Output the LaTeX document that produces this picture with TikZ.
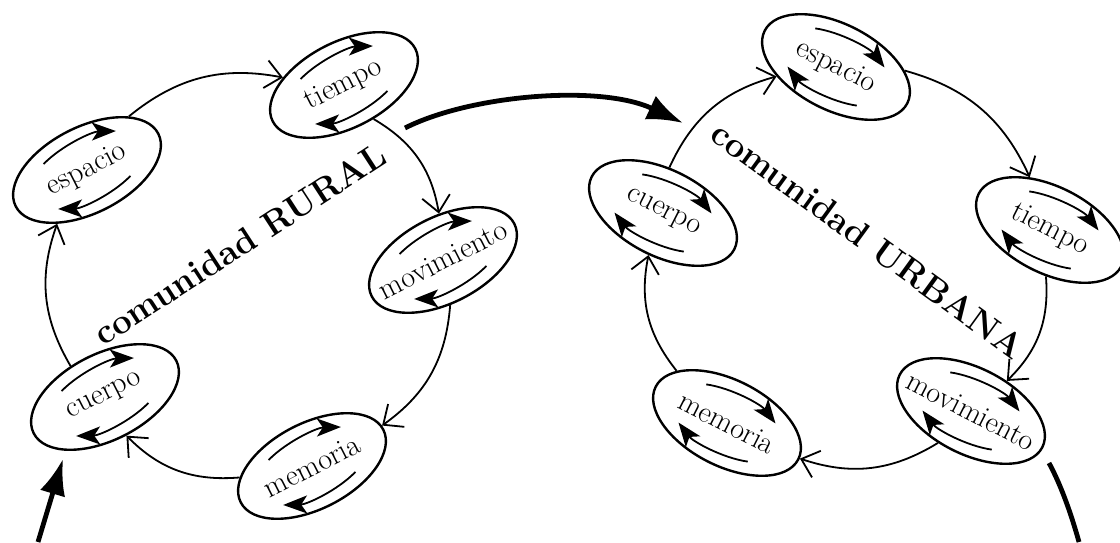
\documentclass[tikz,border=0pt]{standalone}
\usepackage{tikz}
\usetikzlibrary{arrows.meta}
\usetikzlibrary{shapes.geometric}
\tikzset{elip/.style = {draw, ellipse, line width=1.2pt, minimum width=80pt,
                        minimum height=43pt, inner sep=0, font=\fontsize{15}{17}\selectfont}}
\tikzset{link/.style = {line width=0.9pt, -{Straight Barb[length=8pt,width=14pt]}, bend left=25}}
\tikzset{turn/.style = {line width=0.9pt, -{Stealth[length=12pt,width=9pt,inset=3pt]}}}
\tikzset{flow/.style = {line width=2.4pt, -{Latex[length=18pt,width=13pt]}}}
\tikzset{title/.style = {font=\fontsize{17.5}{20}\selectfont\bfseries, inner sep=0}}

\begin{document}
\begin{tikzpicture}[x=0.5pt, y=0.5pt]
    \useasboundingbox (0, 0) rectangle (1120, 542);

    % the two cycles of ellipses, each with its pair of inner arrows
    \foreach \nm/\px/\py/\ang/\word in {lEsp/87/372/27/espacio, lTie/344/457/27/tiempo,
                                        lMov/443/282/27/movimiento, lMem/312/76/27/memoria,
                                        lCue/105/145/27/cuerpo,
                                        rCue/663/329/-27/cuerpo, rEsp/836/475/-27/espacio,
                                        rTie/1050/312/-27/tiempo, rMov/971/131/-27/movimiento,
                                        rMem/727/119/-27/memoria} {
        \node [elip, rotate=\ang] (\nm) at (\px, \py) {\makebox[0pt]{\word}};
        \begin{scope}[shift={(\nm.center)}, rotate=\ang]
            \draw [turn] (-36, 25) arc [start angle=125, end angle=45, x radius=62, y radius=30];
            \draw [turn] (36, -25) arc [start angle=-55, end angle=-135, x radius=62, y radius=30];
        \end{scope}
    }

    \node [title, rotate=33] (rural) at (240, 298) {comunidad RURAL};
    \node [title, rotate=-36] (urbana) at (868, 302) {comunidad URBANA};

    % rural cycle
    \draw [link] (lEsp.25) to (lTie.146);
    \draw [link] (lTie.-76) to (lMov.68);
    \draw [link] (lMov.-108) to (lMem.3);
    \draw [link] (lMem.162) to (lCue.-88);
    \draw [link] (lCue.111) to (lEsp.-146);

    % urban cycle
    \draw [link] (rCue.109) to (rEsp.-144);
    \draw [link] (rEsp.24) to (rTie.138);
    \draw [link] (rTie.-68) to (rMov.67);
    \draw [link] (rMov.-109) to (rMem.1);
    \draw [link] (rMem.161) to (rCue.-82);

    % thick arrows between the communities
    \coordinate (moveOut) at (405, 414);
    \coordinate (moveIn) at (683, 419);
    \coordinate (backOut) at (1049, 79);
    \coordinate (backEnd) at (1079, 0);
    \coordinate (backStart) at (38, 0);
    \coordinate (backIn) at (63, 83);
    \draw [flow] (moveOut) .. controls (470, 447) and (600, 458) .. (moveIn);
    \draw [line width=2.4pt] (backOut) .. controls (1062, 55) and (1072, 25) .. (backEnd);
    \draw [flow] (backStart) -- (backIn);
\end{tikzpicture}
\end{document}
